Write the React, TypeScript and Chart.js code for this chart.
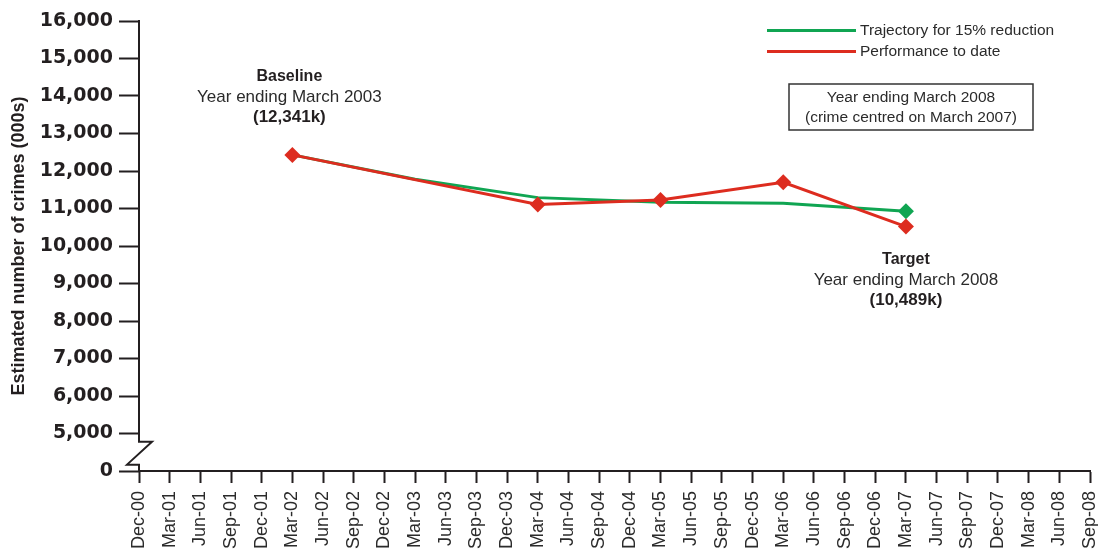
import React, { useEffect, useRef } from "react";
import { Chart, registerables } from "chart.js";

Chart.register(...registerables);

const xLabels = [
  "Dec-00", "Mar-01", "Jun-01", "Sep-01", "Dec-01", "Mar-02", "Jun-02", "Sep-02",
  "Dec-02", "Mar-03", "Jun-03", "Sep-03", "Dec-03", "Mar-04", "Jun-04", "Sep-04",
  "Dec-04", "Mar-05", "Jun-05", "Sep-05", "Dec-05", "Mar-06", "Jun-06", "Sep-06",
  "Dec-06", "Mar-07", "Jun-07", "Sep-07", "Dec-07", "Mar-08", "Jun-08", "Sep-08",
];

const trajectoryDates = ["Mar-02", "Mar-03", "Mar-04", "Mar-05", "Mar-06", "Mar-07"];
const trajectoryValues = [12430, 11780, 11290, 11165, 11138, 10925];

const performanceDates = ["Mar-02", "Mar-04", "Mar-05", "Mar-06", "Mar-07"];
const performanceValues = [12430, 11110, 11229, 11697, 10518];

const yMin = 4000;
const yMax = 16000;
const yStep = 1000;

const GREEN = "#10a552";
const RED = "#dd2c1f";
const DARK = "#231f20";
const TEXT = "#2b2b2b";

const overlay = {
  id: "overlay",
  afterDraw(chart: any) {
    const { ctx } = chart;
    const x = chart.scales.x;
    const y = chart.scales.y;
    const ax = x.left;
    ctx.save();
    // y axis line with break
    const yTop = y.getPixelForValue(4780);
    const yBot = y.getPixelForValue(4170);
    ctx.strokeStyle = DARK;
    ctx.lineWidth = 2;
    ctx.lineJoin = "miter";
    ctx.beginPath();
    ctx.moveTo(ax, y.top - 1);
    ctx.lineTo(ax, yTop);
    ctx.lineTo(ax + 13, yTop);
    ctx.lineTo(ax - 12, yBot);
    ctx.lineTo(ax, yBot);
    ctx.lineTo(ax, y.bottom);
    ctx.stroke();

    // legend
    const fam = "'Liberation Sans', Arial, sans-serif";
    ctx.lineWidth = 3;
    ctx.strokeStyle = GREEN;
    ctx.beginPath();
    ctx.moveTo(767, 30.5);
    ctx.lineTo(856, 30.5);
    ctx.stroke();
    ctx.strokeStyle = RED;
    ctx.beginPath();
    ctx.moveTo(767, 51.5);
    ctx.lineTo(856, 51.5);
    ctx.stroke();
    ctx.fillStyle = TEXT;
    ctx.font = `15.5px ${fam}`;
    ctx.textAlign = "left";
    ctx.textBaseline = "alphabetic";
    ctx.fillText("Trajectory for 15% reduction", 860, 35);
    ctx.fillText("Performance to date", 860, 56);

    // box
    ctx.strokeStyle = "#333";
    ctx.lineWidth = 1.5;
    ctx.strokeRect(789, 84, 244, 46);
    ctx.textAlign = "center";
    ctx.fillText("Year ending March 2008", 911, 102);
    ctx.fillText("(crime centred on March 2007)", 911, 122);

    // baseline annotation
    const bx = x.getPixelForValue(xLabels.indexOf("Mar-02")) - 3;
    ctx.fillStyle = DARK;
    ctx.font = `bold 16px ${fam}`;
    ctx.fillText("Baseline", bx, 81);
    ctx.font = `17px ${fam}`;
    ctx.fillStyle = TEXT;
    ctx.fillText("Year ending March 2003", bx, 102);
    ctx.font = `bold 17px ${fam}`;
    ctx.fillStyle = DARK;
    ctx.fillText("(12,341k)", bx, 122);

    // target annotation
    const tx = x.getPixelForValue(xLabels.indexOf("Mar-07"));
    ctx.font = `bold 16px ${fam}`;
    ctx.fillText("Target", tx, 264);
    ctx.font = `17px ${fam}`;
    ctx.fillStyle = TEXT;
    ctx.fillText("Year ending March 2008", tx, 285);
    ctx.font = `bold 17px ${fam}`;
    ctx.fillStyle = DARK;
    ctx.fillText("(10,489k)", tx, 305);
    ctx.restore();
  },
};

export default function App() {
  const ref = useRef<HTMLCanvasElement>(null);
  useEffect(() => {
    if (!ref.current) return;
    const chart = new Chart(ref.current, {
      type: "line",
      data: {
        labels: xLabels,
        datasets: [
          {
            label: "Performance to date",
            data: performanceDates.map((d, i) => ({ x: d, y: performanceValues[i] })),
            borderColor: RED,
            backgroundColor: RED,
            borderWidth: 3,
            pointStyle: "rectRot",
            pointRadius: 8,
            pointBorderWidth: 0,
            tension: 0,
            order: 0,
          },
          {
            label: "Trajectory for 15% reduction",
            data: trajectoryDates.map((d, i) => ({ x: d, y: trajectoryValues[i] })),
            borderColor: GREEN,
            backgroundColor: GREEN,
            borderWidth: 3,
            pointStyle: "rectRot",
            pointRadius: trajectoryDates.map((_, i) => (i === trajectoryDates.length - 1 ? 8 : 0)),
            pointBorderWidth: 0,
            tension: 0,
            order: 1,
          },
        ],
      },
      options: {
        responsive: false,
        animation: false,
        layout: { padding: { left: 0, right: 8, top: 21, bottom: 0 } },
        plugins: { legend: { display: false }, tooltip: { enabled: false } },
        scales: {
          x: {
            type: "category",
            offset: false,
            grid: {
              display: true,
              drawOnChartArea: false,
              drawTicks: true,
              tickLength: 12,
              tickColor: DARK,
              tickWidth: 2,
            },
            border: { display: true, color: DARK, width: 2 },
            ticks: {
              autoSkip: false,
              maxRotation: 90,
              minRotation: 90,
              padding: 8,
              color: TEXT,
              font: { family: "'Liberation Sans', Arial, sans-serif", size: 18 },
            },
            afterFit: (s: any) => {
              s.height = 84;
              s.paddingRight = 0;
              s.paddingLeft = 0;
            },
          },
          y: {
            type: "linear",
            min: yMin,
            max: yMax,
            grid: {
              display: true,
              drawOnChartArea: false,
              drawTicks: true,
              tickLength: 20,
              tickColor: DARK,
              tickWidth: 2,
            },
            border: { display: false },
            ticks: {
              stepSize: yStep,
              padding: 6,
              color: DARK,
              font: { family: "'DejaVu Sans', sans-serif", size: 19, weight: "bold" },
              callback: (v: any) => (v === yMin ? "0" : Number(v).toLocaleString("en-US")),
            },
            title: {
              display: true,
              text: "Estimated number of crimes (000s)",
              color: DARK,
              padding: { top: 8, bottom: 0 },
              font: { family: "'Liberation Sans', Arial, sans-serif", size: 18, weight: "bold" },
            },
            afterFit: (s: any) => {
              s.width = 139;
              s.paddingTop = 0;
              s.paddingBottom = 0;
            },
          },
        },
      },
      plugins: [overlay],
    });
    return () => chart.destroy();
  }, []);
  return (
    <div style={{ position: "fixed", left: 0, top: 0, width: 1098, height: 555, background: "#fff" }}>
      <canvas ref={ref} width={1098} height={555} style={{ display: "block" }} />
    </div>
  );
}
